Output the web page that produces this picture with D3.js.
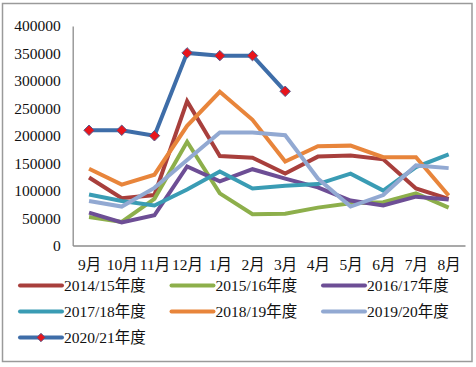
<!DOCTYPE html>
<html><head><meta charset="utf-8">
<script src="https://cdn.jsdelivr.net/npm/d3@7"></script>
<style>body{margin:0;background:#fff}svg{display:block}</style>
</head><body>
<script>
const months = ["9月","10月","11月","12月","1月","2月","3月","4月","5月","6月","7月","8月"];
const yTicks = [0,50000,100000,150000,200000,250000,300000,350000,400000];
const seriesNames = ["2014/15年度","2015/16年度","2016/17年度","2017/18年度","2018/19年度","2019/20年度","2020/21年度"];
const s1415 = [124000,86000,92000,263000,163000,160000,131000,162000,164000,157000,104000,85000];
const s1516 = [52000,43000,85000,189000,95000,57000,58000,69000,77000,79000,95000,69000];
const s1617 = [60000,42000,55000,144000,117000,139000,122000,106000,82000,73000,89000,84000];
const s1718 = [93000,81000,73000,102000,135000,104000,109000,112000,131000,100000,143000,166000];
const s1819 = [140000,111000,129000,218000,280000,229000,153000,181000,182000,161000,161000,91000];
const s1920 = [81000,71000,105000,156000,206000,206000,201000,122000,71000,92000,146000,141000];
const s2021 = [210000,210000,200000,351000,346000,346000,281000];
const colors = ["#A83F3C","#8DAF4B","#6D4E95","#3A9CB4","#E8853B","#92A9D2","#3E6DA8"];

const W=476,H=367;
const svg=d3.select("body").append("svg").attr("width",W).attr("height",H);
svg.append("rect").attr("x",2.5).attr("y",3.5).attr("width",469.5).attr("height",358).attr("fill","#fff").attr("stroke","#9a9a9a").attr("stroke-width",1.5);

const x=d3.scalePoint().domain(months).range([72.7,465]).padding(0.5);
const y=d3.scaleLinear().domain([0,400000]).range([245.5,26]);
const font="'Liberation Serif','Noto Sans CJK SC',serif";

// axes
const yAxis=d3.axisLeft(y).tickValues(yTicks).tickSize(0).tickPadding(12).tickFormat(d3.format("d"));
const gy=svg.append("g").attr("transform","translate(72.7,0)").call(yAxis);
gy.select(".domain").attr("stroke","#8c8c8c").attr("stroke-width",1.3);
gy.selectAll("text").attr("font-family",font).attr("font-size",15.5).attr("fill","#111");

const xAxis=d3.axisBottom(x).tickSize(0).tickPadding(13);
const gx=svg.append("g").attr("transform","translate(0,245.5)").call(xAxis);
gx.select(".domain").attr("stroke","#8c8c8c").attr("stroke-width",1.3);
gx.selectAll("text").attr("font-family",font).attr("font-size",15.5).attr("fill","#111");

const all=[s1415,s1516,s1617,s1718,s1819,s1920,s2021];
const line=d3.line().x((d,i)=>x(months[i])).y(d=>y(d));
all.forEach((s,k)=>{
  svg.append("path").datum(s).attr("d",line).attr("fill","none")
    .attr("stroke",colors[k]).attr("stroke-width",4).attr("stroke-linejoin","miter");
});
const diamond=d3.symbol().type(d3.symbolDiamond2).size(70);
svg.append("g").selectAll("path").data(s2021).join("path")
  .attr("d",diamond).attr("transform",(d,i)=>`translate(${x(months[i])},${y(d)})`)
  .attr("fill","#E8141B").attr("stroke","#5A5A8A").attr("stroke-width",1);

// legend
const lg=svg.append("g");
seriesNames.forEach((n,k)=>{
  const col=k%3,row=Math.floor(k/3);
  const lx=20+col*151.5, ly=285.5+row*26;
  lg.append("line").attr("x1",lx).attr("x2",lx+42).attr("y1",ly).attr("y2",ly)
    .attr("stroke",colors[k]).attr("stroke-width",4).attr("stroke-linecap","round");
  if(k===6){
    lg.append("path").attr("d",d3.symbol().type(d3.symbolDiamond2).size(45)())
      .attr("transform",`translate(${lx+21},${ly})`).attr("fill","#E8141B").attr("stroke","#5A5A8A").attr("stroke-width",1);
  }
  lg.append("text").attr("x",lx+44).attr("y",ly).attr("dy","0.35em")
    .attr("font-family",font).attr("font-size",15.5).attr("fill","#111").text(n);
});
</script>
</body></html>
